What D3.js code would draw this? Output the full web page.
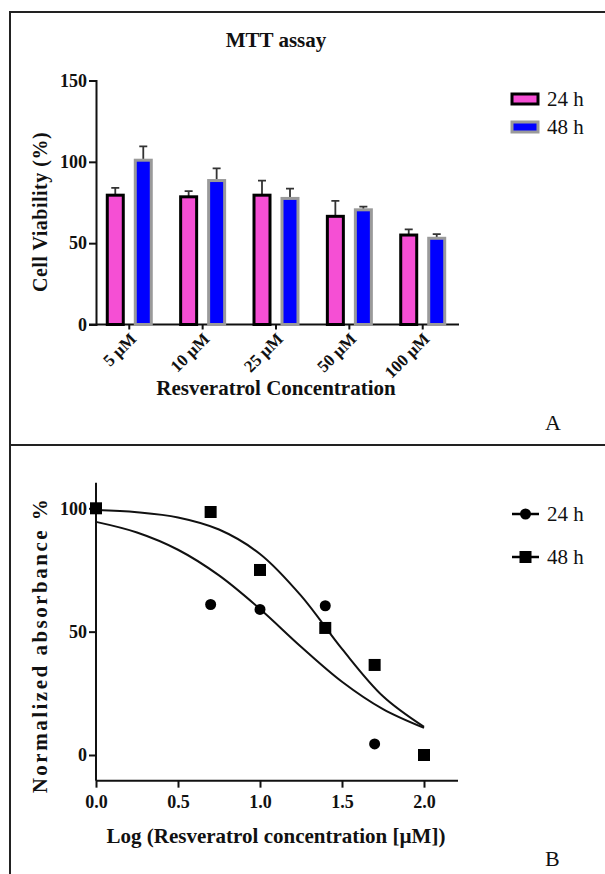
<!doctype html>
<html>
  <head>
    <meta charset="utf-8">
    <title>MTT assay</title>
    <script src="https://d3js.org/d3.v7.min.js"></script>
    <style>
      body { margin: 0; background: #fff; }
      text { font-family: "Liberation Serif", "Times New Roman", serif; fill: #111; }
      .bold { font-weight: bold; }
    </style>
  </head>
  <body>
  <div id="chart"></div>
  <script>
    // panel A - bars
    var doses = ["5 \u00b5M", "10 \u00b5M", "25 \u00b5M", "50 \u00b5M", "100 \u00b5M"];
    var series = ["24 h", "48 h"];
    var mean24 = [79.5, 78.5, 79.5, 66.5, 55];
    var err24 = [4.5, 3.5, 9, 9.5, 3.5];
    var mean48 = [101, 88.5, 77.5, 70.5, 53];
    var err48 = [8.5, 7.5, 6, 2, 2.5];
    var yTicksA = [0, 50, 100, 150];

    // panel B - dose response
    var logDose = [0, 0.699, 1, 1.398, 1.699, 2];
    var resp24 = [100, 61, 59, 60.5, 4.5, 0];
    var resp48 = [100, 98.5, 75, 51.5, 36.5, 0];
    // fitted curves
    var fitX = [0, 0.25, 0.5, 0.75, 1, 1.25, 1.5, 1.75, 2];
    var fit24 = [94.5, 90.2, 83.2, 72.8, 59.2, 43.9, 29.7, 18.6, 11];
    var fit48 = [99.3, 98.4, 96.3, 91.4, 81.5, 64.6, 43, 23.8, 11.4];
    var xTicksB = [0, 0.5, 1, 1.5, 2];
    var yTicksB = [0, 50, 100];

    var W = 605, H = 874;
    var svg = d3.select("#chart").append("svg").attr("width", W).attr("height", H);

    // frame
    svg.append("path")
        .attr("d", "M10,874 L10,12 L605,12 M10,445 L605,445")
        .attr("fill", "none").attr("stroke", "#222").attr("stroke-width", 2);

    // ---------- A ----------
    var x = d3.scaleBand().domain(doses).range([92.6, 459.4]);
    var y = d3.scaleLinear().domain([0, 150]).range([324.5, 80.5]);

    var gA = svg.append("g");

    gA.append("text").attr("class", "bold")
        .attr("x", 276).attr("y", 47).attr("text-anchor", "middle")
        .style("font-size", "21px").text("MTT assay");

    var yAxisA = d3.axisLeft(y).tickValues(yTicksA).tickSize(7).tickPadding(2);
    gA.append("g").attr("transform", "translate(96,0)").call(yAxisA).call(styleAxis);

    var xAxisA = d3.axisBottom(x).tickSize(5).tickFormat("");
    gA.append("g").attr("transform", "translate(0,324.5)").call(xAxisA).call(styleAxis)
        .select(".domain").attr("d", "M89,0H459");

    // tick labels rotated
    gA.selectAll(".xlab").data(doses).enter().append("text")
        .attr("class", "bold xlab")
        .attr("text-anchor", "end")
        .attr("transform", function(d){ return "translate(" + (x(d) + x.bandwidth() / 2 + 8) + ",340) rotate(-45)"; })
        .style("font-size", "17px")
        .text(function(d){ return d; });

    var barW = 16;
    var bars = [
      {vals: mean24, errs: err24, off: -14, fill: "#f54fd4", stroke: "#000"},
      {vals: mean48, errs: err48, off: 14, fill: "#0000ff", stroke: "#9a9a9a"}
    ];
    bars.forEach(function(s){
      var g = gA.append("g");
      var cx = function(d, i){ return x(doses[i]) + x.bandwidth() / 2 + s.off; };
      // error bars (upper only)
      g.selectAll("path.err").data(s.vals).enter().append("path")
          .attr("d", function(d, i){
            var c = cx(d, i), t = y(d + s.errs[i]);
            return "M" + c + "," + y(d) + "V" + t + "M" + (c - 4) + "," + t + "H" + (c + 4);
          })
          .attr("stroke", "#333").attr("stroke-width", 1.8).attr("fill", "none");
      g.selectAll("rect").data(s.vals).enter().append("rect")
          .attr("x", function(d, i){ return cx(d, i) - barW / 2; })
          .attr("y", function(d){ return y(d); })
          .attr("width", barW)
          .attr("height", function(d){ return y(0) - y(d); })
          .attr("fill", s.fill).attr("stroke", s.stroke).attr("stroke-width", 3);
    });

    gA.append("text").attr("class", "bold")
        .attr("transform", "translate(47,212) rotate(-90)")
        .attr("text-anchor", "middle").style("font-size", "20px")
        .style("letter-spacing", "0.5px")
        .text("Cell Viability (%)");

    gA.append("text").attr("class", "bold")
        .attr("x", 276).attr("y", 395).attr("text-anchor", "middle")
        .style("font-size", "21px").text("Resveratrol Concentration");

    gA.append("text").attr("x", 545).attr("y", 430).style("font-size", "22px").text("A");

    // legend A
    var legA = gA.selectAll(".legA").data(series).enter().append("g")
        .attr("transform", function(d, i){ return "translate(512," + (99 + i * 28) + ")"; });
    legA.append("rect").attr("x", 0).attr("y", -5).attr("width", 26).attr("height", 10)
        .attr("fill", function(d, i){ return bars[i].fill; })
        .attr("stroke", function(d, i){ return bars[i].stroke; })
        .attr("stroke-width", 3);
    legA.append("text").attr("x", 35).attr("y", 7).style("font-size", "21px").text(function(d){ return d; });

    // ---------- B ----------
    var xB = d3.scaleLinear().domain([0, 2]).range([96, 424]);
    var yB = d3.scaleLinear().domain([0, 100]).range([755, 508.3]);

    var gB = svg.append("g");

    var yAxisB = d3.axisLeft(yB).tickValues(yTicksB).tickSize(7).tickPadding(2);
    gB.append("g").attr("transform", "translate(96,0)").call(yAxisB).call(styleAxis)
        .select(".domain").attr("d", "M0," + yB(110.4) + "V" + yB(-10.4));

    var xAxisB = d3.axisBottom(xB).tickValues(xTicksB).tickSize(7).tickPadding(8)
        .tickFormat(d3.format(".1f"));
    gB.append("g").attr("transform", "translate(0," + yB(-10.4) + ")").call(xAxisB).call(styleAxis)
        .select(".domain").attr("d", "M96,0H458");

    var line = d3.line()
        .x(function(d){ return xB(d[0]); })
        .y(function(d){ return yB(d[1]); })
        .curve(d3.curveCatmullRom);

    [fit24, fit48].forEach(function(f){
      gB.append("path")
          .datum(fitX.map(function(v, i){ return [v, f[i]]; }))
          .attr("d", line)
          .attr("fill", "none").attr("stroke", "#111").attr("stroke-width", 2);
    });

    gB.selectAll(".pt24").data(resp24).enter().append("circle")
        .attr("cx", function(d, i){ return xB(logDose[i]); })
        .attr("cy", function(d){ return yB(d); })
        .attr("r", 5.5).attr("fill", "#000");

    gB.selectAll(".pt48").data(resp48).enter().append("rect")
        .attr("x", function(d, i){ return xB(logDose[i]) - 6; })
        .attr("y", function(d){ return yB(d) - 6; })
        .attr("width", 12).attr("height", 12).attr("fill", "#000");

    gB.append("text").attr("class", "bold")
        .attr("transform", "translate(47,645) rotate(-90)")
        .attr("text-anchor", "middle").style("font-size", "21px")
        .style("letter-spacing", "2.5px")
        .text("Normalized absorbance %");

    gB.append("text").attr("class", "bold")
        .attr("x", 276).attr("y", 843).attr("text-anchor", "middle")
        .style("font-size", "21px").text("Log (Resveratrol concentration [\u00b5M])");

    gB.append("text").attr("x", 545).attr("y", 866).style("font-size", "22px").text("B");

    // legend B
    var legB = gB.selectAll(".legB").data(series).enter().append("g")
        .attr("transform", function(d, i){ return "translate(512," + (514 + i * 43) + ")"; });
    legB.append("path").attr("d", "M0,0H27").attr("stroke", "#000").attr("stroke-width", 2.5);
    legB.filter(function(d, i){ return i == 0; }).append("circle").attr("cx", 13.5).attr("r", 5.5).attr("fill", "#000");
    legB.filter(function(d, i){ return i == 1; }).append("rect")
        .attr("x", 7.5).attr("y", -6).attr("width", 12).attr("height", 12).attr("fill", "#000");
    legB.append("text").attr("x", 35).attr("y", 7).style("font-size", "21px").text(function(d){ return d; });

    function styleAxis(g) {
      g.select(".domain").attr("stroke", "#111").attr("stroke-width", 2);
      g.selectAll(".tick line").attr("stroke", "#111").attr("stroke-width", 2);
      g.selectAll(".tick text")
        .attr("class", "bold")
        .style("font-family", "'Liberation Serif', serif")
        .style("font-size", "18px").attr("fill", "#111");
    }
  </script>
  </body>
</html>
